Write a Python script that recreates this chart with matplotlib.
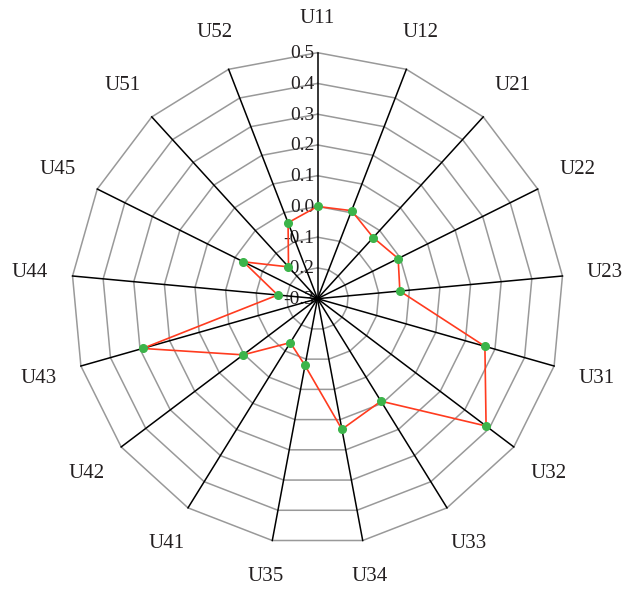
import numpy as np
import matplotlib
matplotlib.use('Agg')
import matplotlib.pyplot as plt

categories = ['U11', 'U12', 'U21', 'U22', 'U23', 'U31', 'U32', 'U33', 'U34',
              'U35', 'U41', 'U42', 'U43', 'U44', 'U45', 'U51', 'U52']
values = [0.0, 0.007, -0.031, -0.007, -0.031, 0.266, 0.387, 0.092, 0.132,
          -0.079, -0.132, 0.003, 0.291, -0.17, -0.031, -0.16, -0.035]
levels = [-0.3, -0.2, -0.1, 0.0, 0.1, 0.2, 0.3, 0.4, 0.5]
level_labels = ['-0.3', '-0.2', '-0.1', '0.0', '0.1', '0.2', '0.3', '0.4', '0.5']

plt.rcParams['font.family'] = ['Liberation Serif', 'DejaVu Serif']

fig = plt.figure(figsize=(6.25, 5.92), dpi=100)
ax = fig.add_axes([0.1144, 0.0799, 0.7872, 0.8311], polar=True)
ax.set_theta_zero_location('N')
ax.set_theta_direction(-1)
ax.set_ylim(levels[0], levels[-1])
ax.axis('off')

n = len(categories)
angles = np.arange(n) * 2 * np.pi / n
closed = np.append(angles, angles[0])

# polygon rings
for lv in levels[1:]:
    ax.plot(closed, [lv] * (n + 1), color='#999999', lw=1.1, zorder=1, clip_on=False)

# radial tick labels along the top spoke
for lv, lab in zip(levels, level_labels):
    ax.annotate(lab, xy=(0, lv), xytext=(-3, -1), textcoords='offset pixels',
                ha='right', va='center', fontsize=14, color='#231f20', zorder=2,
                annotation_clip=False)

# spokes
for a in angles:
    ax.plot([a, a], [levels[0], levels[-1]], color='black', lw=1.1, zorder=3, clip_on=False)

# data
vals = values + values[:1]
ax.plot(closed, vals, color='#ff3b1f', lw=1.2, zorder=4, clip_on=False)
ax.plot(angles, values, 'o', color='#3cb44a', markersize=5.5, zorder=5, clip_on=False)

# category labels
for a, lab in zip(angles, categories):
    s, c = np.sin(a), np.cos(a)
    d = 25 + abs(s) * 17 + abs(c) * 9
    ax.annotate(lab, xy=(a, levels[-1]), xytext=(d * s, d * c), textcoords='offset pixels',
                ha='center', va='center', fontsize=15, color='#231f20',
                annotation_clip=False)

plt.savefig('out.png', dpi=100)
plt.close()
